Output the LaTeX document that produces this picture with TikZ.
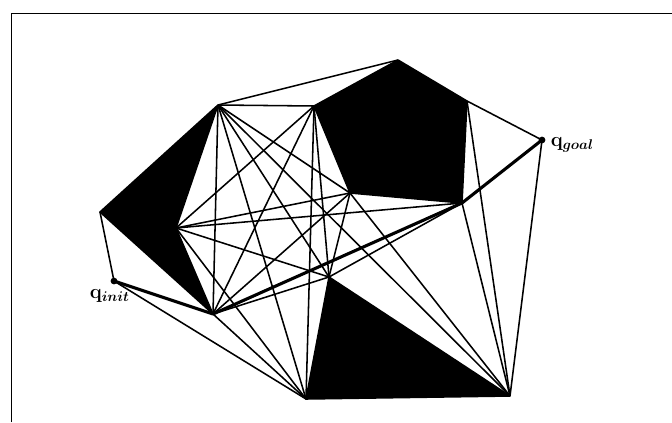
\documentclass[tikz,border=0pt]{standalone}
\usepackage{amsmath,amssymb}
\usepackage{bm}
\usepackage{tikz}
\usetikzlibrary{calc}

\begin{document}
\begin{tikzpicture}[x=0.025cm,y=-0.025cm,line width=1.1pt]
        \useasboundingbox (0,0) rectangle (672,422);
        % frame
        \coordinate (F1) at (11.5,422);
        \coordinate (F2) at (11.5,13.5);
        \coordinate (F3) at (672,13.5);
        \path[draw,line width=1.4pt](F1)--(F2)--(F3);
        % start and goal
        \coordinate (qi) at (114,281);
        \coordinate (qg) at (542,140);
        \node[anchor=base west,font=\Large,inner sep=0pt](li)at(89,298){$\mathbf{q}_{\bm{init}}$};
        \node[anchor=base west,font=\Large,inner sep=0pt](lg)at(550,146){$\mathbf{q}_{\bm{goal}}$};
        % obstacle vertices
        \coordinate (A1) at (218,105);
        \coordinate (A2) at (100,212);
        \coordinate (A3) at (213,314);
        \coordinate (A4) at (176,228);
        \coordinate (B1) at (398,60);
        \coordinate (B2) at (467,101);
        \coordinate (B3) at (462,203);
        \coordinate (B4) at (350,193);
        \coordinate (B5) at (314,106);
        \coordinate (C1) at (329,277);
        \coordinate (C2) at (306,399);
        \coordinate (C3) at (510,396);
        % obstacles
        \path[draw,fill=black,line join=round](A1)--(A2)--(A3)--(A4)--cycle;
        \path[draw,fill=black,line join=round](B1)--(B2)--(B3)--(B4)--(B5)--cycle;
        \path[draw,fill=black,line join=round](C1)--(C2)--(C3)--cycle;
        % visibility graph
        \path[draw](qi)to(A2);
        \path[draw](qi)to(C2);
        \path[draw](A1)to(B1);
        \path[draw](A1)to(B5);
        \path[draw](A1)to(A3);
        \path[draw](A1)to(B4);
        \path[draw](A1)to(C1);
        \path[draw](A1)to(C2);
        \path[draw](A1)to(C3);
        \path[draw](A3)to(C1);
        \path[draw](A3)to(C2);
        \path[draw](A3)to(B4);
        \path[draw](A3)to(B5);
        \path[draw](A4)to(B5);
        \path[draw](A4)to(B4);
        \path[draw](A4)to(B3);
        \path[draw](A4)to(C1);
        \path[draw](A4)to(C2);
        \path[draw](B2)to(qg);
        \path[draw](B2)to(C3);
        \path[draw](B3)to(C3);
        \path[draw](B3)to(C1);
        \path[draw](B4)to(C1);
        \path[draw](B4)to(C3);
        \path[draw](B5)to(C1);
        \path[draw](B5)to(C2);
        \path[draw](C3)to(qg);
        % shortest path
        \path[draw,line width=2.2pt,line join=round](qi)to(A3)to(B3)to(qg);
        \path[fill=black](qi)circle[radius=2.4pt];
        \path[fill=black](qg)circle[radius=2.4pt];
\end{tikzpicture}
\end{document}
